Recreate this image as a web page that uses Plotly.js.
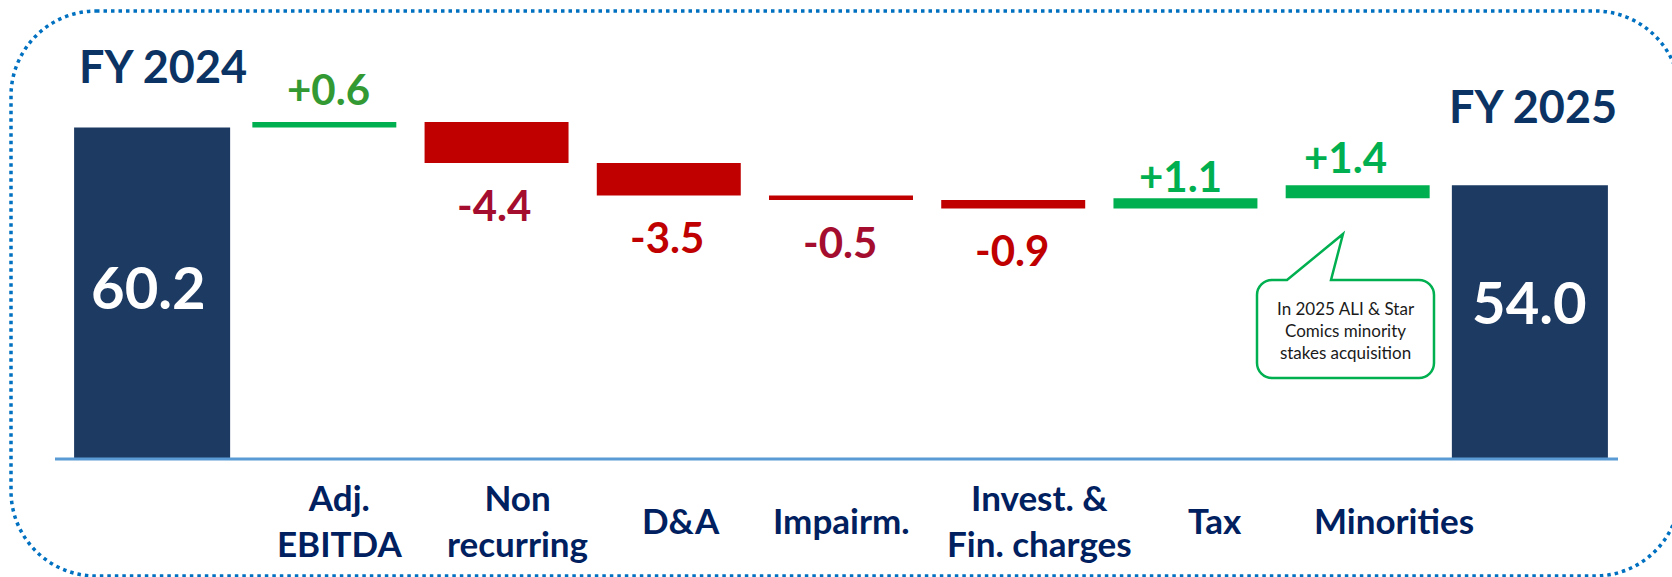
<!DOCTYPE html>
<html>
<head>
<meta charset="utf-8">
<script src="https://cdn.plot.ly/plotly-3.0.1.min.js"></script>
<style>
  html, body { margin: 0; padding: 0; background: #ffffff; }
  #chart { width: 1672px; height: 577px; }
</style>
</head>
<body>
<div id="chart"></div>
<script>
// ---------- data ----------
const categories = ['FY 2024', 'Adj. EBITDA', 'Non recurring', 'D&A', 'Impairm.', 'Invest. & Fin. charges', 'Tax', 'Minorities', 'FY 2025'];
const axisLabels = ['', 'Adj.<br>EBITDA', 'Non<br>recurring', 'D&A', 'Impairm.', 'Invest. &<br>Fin. charges', 'Tax', 'Minorities', ''];
const values = [60.2, 0.6, -4.4, -3.5, -0.5, -0.9, 1.1, 1.4, 54.0];
const measures = ['absolute', 'relative', 'relative', 'relative', 'relative', 'relative', 'relative', 'relative', 'total'];
const valueLabels = ['60.2', '+0.6', '-4.4', '-3.5', '-0.5', '-0.9', '+1.1', '+1.4', '54.0'];
const calloutText = 'In 2025 ALI & Star<br>Comics minority<br>stakes acquisition';

// ---------- styles ----------
const labelColors = ['#ffffff', '#339933', '#a50d2e', '#c00000', '#a50d2e', '#c00000', '#00b050', '#00b050', '#ffffff'];
const barWidths = [0.906, 0.836, 0.836, 0.836, 0.836, 0.836, 0.836, 0.836, 0.906];
// text nudges (pixels) for labels, as placed in the original slide
const axisLabelShiftX = [0, 15, 21, 12, 0, 26, 30, 36, 0];
const valueLabelShiftX = [0, 4, -3, -2, -1.5, -1.5, -5, -12, 0];
const valueLabelShiftY = [0, 32.5, -42, -42, -42, -42, 22, 28, 0];
const FONT = 'Lato, "Open Sans", sans-serif';
const NAVY_TEXT = '#002060';

const W = 1672, H = 577;
const M = { l: 66, r: 56, t: 30, b: 118 };
const PW = W - M.l - M.r, PH = H - M.t - M.b;
const px = x => (x - M.l) / PW;
const py = y => 1 - (y - M.t) / PH;

// path helper in pixel space -> paper space
function pathFrom(cmds) {
  return cmds.map(c => {
    const [op, ...pts] = c;
    const out = [];
    for (let i = 0; i < pts.length; i += 2) out.push(px(pts[i]).toFixed(5) + ',' + py(pts[i + 1]).toFixed(5));
    return op + ' ' + out.join(' ');
  }).join(' ') + ' Z';
}

function roundedRectCmds(x0, y0, x1, y1, r) {
  const k = 0.5523 * r;
  return [
    ['M', x0 + r, y0],
    ['L', x1 - r, y0],
    ['C', x1 - r + k, y0, x1, y0 + r - k, x1, y0 + r],
    ['L', x1, y1 - r],
    ['C', x1, y1 - r + k, x1 - r + k, y1, x1 - r, y1],
    ['L', x0 + r, y1],
    ['C', x0 + r - k, y1, x0, y1 - r + k, x0, y1 - r],
    ['L', x0, y0 + r],
    ['C', x0, y0 + r - k, x0 + r - k, y0, x0 + r, y0]
  ];
}

// callout bubble
function calloutCmds(x0, y0, x1, y1, r, t0, tipX, tipY, t1) {
  const k = 0.5523 * r;
  return [
    ['M', x0 + r, y0],
    ['L', t0, y0],
    ['L', tipX, tipY],
    ['L', t1, y0],
    ['L', x1 - r, y0],
    ['C', x1 - r + k, y0, x1, y0 + r - k, x1, y0 + r],
    ['L', x1, y1 - r],
    ['C', x1, y1 - r + k, x1 - r + k, y1, x1 - r, y1],
    ['L', x0 + r, y1],
    ['C', x0 + r - k, y1, x0, y1 - r + k, x0, y1 - r],
    ['L', x0, y0 + r],
    ['C', x0, y0 + r - k, x0 + r - k, y0, x0 + r, y0]
  ];
}

const trace = {
  type: 'waterfall',
  x: categories,
  y: values,
  measure: measures,
  width: barWidths,
  textinfo: 'none',
  hoverinfo: 'skip',
  connector: { visible: false },
  increasing: { marker: { color: '#00b050', line: { width: 0 } } },
  decreasing: { marker: { color: '#c00000', line: { width: 0 } } },
  totals: { marker: { color: '#1d3a63', line: { width: 0 } } }
};

const annotations = [];

// category labels under the axis
axisLabels.forEach((t, i) => {
  if (!t) return;
  annotations.push({
    x: categories[i], xref: 'x', xshift: axisLabelShiftX[i],
    y: py(520), yref: 'paper',
    text: t, showarrow: false, xanchor: 'center', yanchor: 'middle',
    align: 'center',
    font: { family: FONT, size: 35, color: NAVY_TEXT, weight: 700 }
  });
});

// delta labels placed from running totals
let cum = 0;
values.forEach((v, i) => {
  if (measures[i] === 'absolute') { cum = v; return; }
  if (measures[i] === 'total') return;
  const before = cum, after = cum + v;
  cum = after;
  const top = Math.max(before, after), bottom = Math.min(before, after);
  annotations.push({
    x: categories[i], xref: 'x', xshift: valueLabelShiftX[i],
    y: v >= 0 ? top : bottom, yref: 'y',
    yshift: valueLabelShiftY[i],
    text: valueLabels[i], showarrow: false, xanchor: 'center', yanchor: 'middle',
    font: { family: FONT, size: 42, color: labelColors[i], weight: 700 }
  });
});

// totals labels inside the bars
annotations.push({
  x: px(148), xref: 'paper', y: py(286), yref: 'paper',
  text: valueLabels[0], showarrow: false, xanchor: 'center', yanchor: 'middle',
  font: { family: FONT, size: 58, color: labelColors[0], weight: 700 }
});
annotations.push({
  x: px(1529), xref: 'paper', y: py(301), yref: 'paper',
  text: valueLabels[8], showarrow: false, xanchor: 'center', yanchor: 'middle',
  font: { family: FONT, size: 58, color: labelColors[8], weight: 700 }
});

// FY titles
annotations.push({
  x: px(162.5), xref: 'paper', y: py(65.5), yref: 'paper',
  text: categories[0], showarrow: false, xanchor: 'center', yanchor: 'middle',
  font: { family: FONT, size: 45, color: '#0b3363', weight: 700 }
});
annotations.push({
  x: px(1533), xref: 'paper', y: py(106), yref: 'paper',
  text: categories[8], showarrow: false, xanchor: 'center', yanchor: 'middle',
  font: { family: FONT, size: 45, color: '#0b3363', weight: 700 }
});

// callout text
annotations.push({
  x: px(1345.5), xref: 'paper', y: py(330), yref: 'paper',
  text: calloutText, showarrow: false, xanchor: 'center', yanchor: 'middle',
  align: 'center',
  font: { family: FONT, size: 17, color: '#1a1a1a' }
});

const shapes = [
  // dotted rounded frame
  {
    type: 'path', xref: 'paper', yref: 'paper', layer: 'below',
    path: pathFrom(roundedRectCmds(11, 11, 1680, 576, 85)),
    line: { color: '#0070c0', width: 3.5, dash: '3.5px,4px' },
    fillcolor: 'rgba(0,0,0,0)'
  },
  // baseline axis
  {
    type: 'line', xref: 'paper', yref: 'paper',
    x0: px(55), x1: px(1618), y0: 0, y1: 0,
    line: { color: '#5b9bd5', width: 3 }
  },
  // callout bubble
  {
    type: 'path', xref: 'paper', yref: 'paper', layer: 'above',
    path: pathFrom(calloutCmds(1257, 280, 1434, 378, 15, 1287, 1343, 234, 1331)),
    line: { color: '#00b050', width: 2.5 },
    fillcolor: '#ffffff'
  }
];

const layout = {
  width: W, height: H,
  margin: M,
  paper_bgcolor: '#ffffff',
  plot_bgcolor: 'rgba(0,0,0,0)',
  showlegend: false,
  xaxis: {
    type: 'category', range: [-0.5, 8.5],
    showticklabels: false, showgrid: false, zeroline: false, showline: false, ticks: '',
    fixedrange: true
  },
  yaxis: {
    range: [24.56, 70.69], visible: false, showgrid: false, zeroline: false, fixedrange: true
  },
  annotations: annotations,
  shapes: shapes,
  font: { family: FONT }
};

Plotly.newPlot('chart', [trace], layout, { displayModeBar: false, staticPlot: true });
</script>
</body>
</html>
